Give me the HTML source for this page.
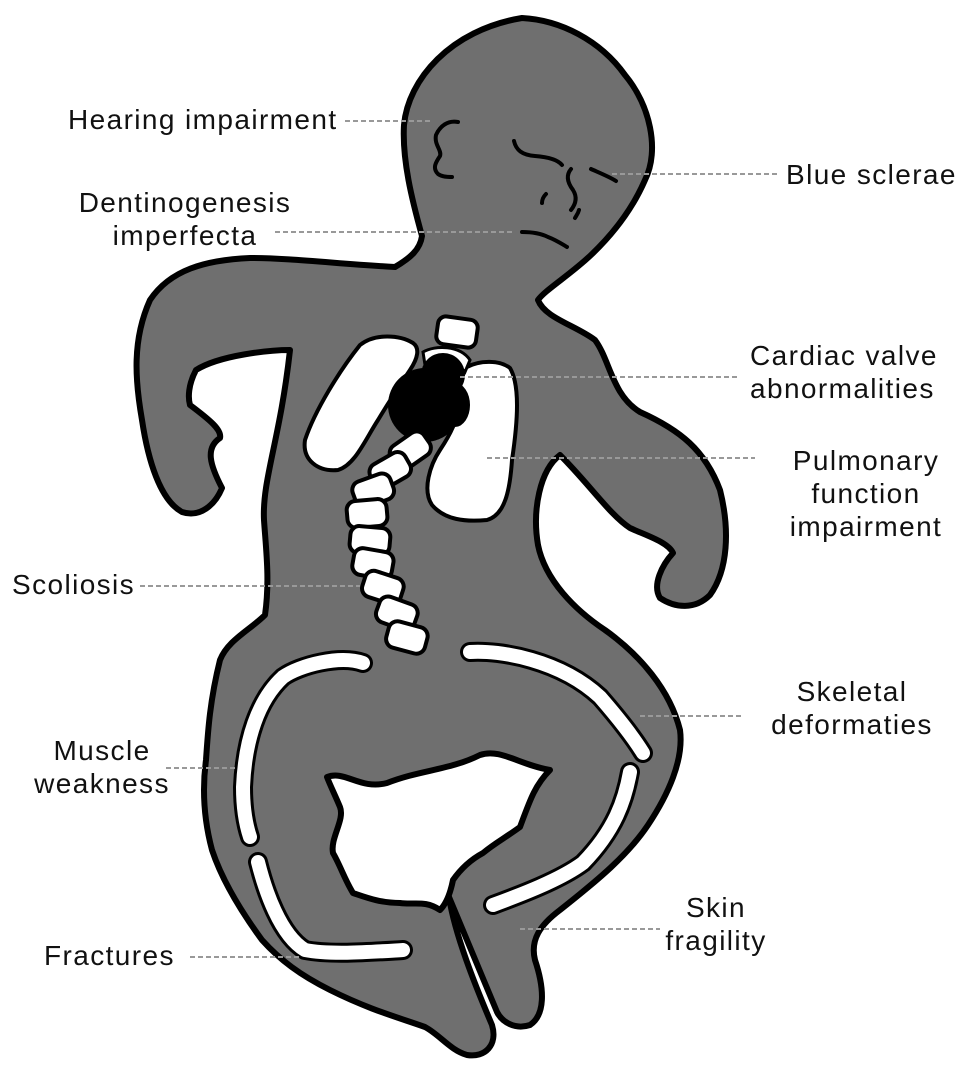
<!DOCTYPE html>
<html><head><meta charset="utf-8"><style>
html,body{margin:0;padding:0;background:#fff}
svg{display:block}
text{font-family:"Liberation Sans",Arial,sans-serif;font-size:28px;letter-spacing:1.4px;fill:#111}
.d{stroke:#999;stroke-width:2;stroke-dasharray:5 3;fill:none}
</style></head><body>
<svg width="969" height="1074" viewBox="0 0 969 1074">
<path fill="#6f6f6f" stroke="#000" stroke-width="6" stroke-linejoin="round" d="
M522,18 C560,20 600,40 625,75 C650,105 660,150 645,180 C632,210 612,235 591,255 C570,275 545,290 538,300 C545,318 575,325 595,340 C610,360 612,395 640,412 C680,430 705,450 720,490 C730,530 728,570 710,595 C695,610 675,608 660,598 C652,585 662,565 673,553 C668,542 645,535 630,528 C610,515 590,485 560,455 C540,470 532,510 538,545 C545,580 575,610 605,630 C640,655 670,690 680,730 C684,760 668,795 648,825 C628,855 598,880 560,910 C540,925 530,940 535,960 C545,990 545,1015 530,1025 C515,1030 502,1022 497,1012 L449,897 C455,935 475,985 492,1025 C498,1045 485,1058 467,1055 C450,1050 440,1035 425,1027 C400,1018 370,1010 330,990 C300,975 280,960 262,940 C240,910 222,880 212,850 C204,820 202,790 206,760 C208,730 210,700 220,660 C228,640 250,630 265,615 C270,580 266,550 264,520 C262,480 280,440 290,350 C270,350 220,355 196,370 C188,385 188,398 190,405 C210,420 222,430 220,438 C205,448 210,465 222,488 C215,505 200,518 182,512 C160,500 148,460 142,420 C135,380 132,340 150,300 C170,270 205,260 250,258 C290,258 340,264 395,267 C410,258 420,250 422,236 C412,200 402,160 404,125 C408,80 450,30 522,18 Z"/>
<path fill="#fff" stroke="#000" stroke-width="6" stroke-linejoin="round" d="M327,777 C345,770 360,790 387,783 C420,770 450,770 480,755 C500,748 520,765 550,770 C535,785 530,800 520,827 C505,838 495,843 483,853 C470,860 460,870 453,880 C450,895 445,905 440,910 C425,900 415,905 400,903 C380,903 365,897 353,893 C345,880 340,865 333,853 C330,838 345,820 340,807 C335,795 330,785 327,777 Z"/>
<g fill="none" stroke-linecap="round" stroke-linejoin="round">
<path stroke="#000" stroke-width="20" d="M363,663 C340,655 300,665 283,677 C258,700 245,740 243,787 C243,810 246,825 250,837"/>
<path stroke="#fff" stroke-width="14" d="M363,663 C340,655 300,665 283,677 C258,700 245,740 243,787 C243,810 246,825 250,837"/>
<path stroke="#000" stroke-width="20" d="M258,862 C265,890 280,935 305,950 C330,955 370,952 403,950"/>
<path stroke="#fff" stroke-width="14" d="M258,862 C265,890 280,935 305,950 C330,955 370,952 403,950"/>
<path stroke="#000" stroke-width="20" d="M470,652 C500,650 560,660 600,697 C620,720 635,740 643,753"/>
<path stroke="#fff" stroke-width="14" d="M470,652 C500,650 560,660 600,697 C620,720 635,740 643,753"/>
<path stroke="#000" stroke-width="20" d="M630,772 C625,800 615,830 583,863 C560,880 520,895 493,905"/>
<path stroke="#fff" stroke-width="14" d="M630,772 C625,800 615,830 583,863 C560,880 520,895 493,905"/>
</g>
<g fill="#fff" stroke="#000" stroke-width="4" stroke-linejoin="round">
<path d="M413,343 C400,335 375,333 360,345 C340,370 315,410 305,440 C302,460 318,472 338,470 C355,465 365,440 378,420 C390,400 400,385 410,370 C418,358 420,348 413,343 Z"/>
<path d="M467,367 C480,360 500,360 510,368 C520,385 518,420 512,460 C510,490 505,515 487,520 C465,522 445,520 432,505 C422,490 430,465 440,450 C450,435 458,420 460,400 C460,385 460,372 467,367 Z"/>
<rect x="437" y="318" width="40" height="28" rx="8" transform="rotate(8 457 332)"/>
</g>
<path d="M423,352 C435,345 460,345 470,360 L465,372 C455,360 435,360 425,365 Z" fill="#fff" stroke="#000" stroke-width="3"/>
<circle cx="443" cy="375" r="22" fill="#000"/>
<circle cx="425" cy="405" r="37" fill="#000"/>
<ellipse cx="455" cy="405" rx="15" ry="22" fill="#000"/>
<g fill="#fff" stroke="#000" stroke-width="4">
<rect x="390" y="437" width="40" height="27" rx="9" transform="rotate(-35 410 450)"/>
<rect x="370" y="457" width="40" height="27" rx="9" transform="rotate(-30 390 470)"/>
<rect x="353" y="477" width="40" height="27" rx="9" transform="rotate(-20 373 490)"/>
<rect x="347" y="500" width="40" height="27" rx="9" transform="rotate(-5 367 513)"/>
<rect x="350" y="527" width="40" height="27" rx="9" transform="rotate(5 370 540)"/>
<rect x="353" y="550" width="40" height="27" rx="9" transform="rotate(10 373 563)"/>
<rect x="363" y="574" width="40" height="27" rx="9" transform="rotate(18 383 587)"/>
<rect x="377" y="600" width="40" height="27" rx="9" transform="rotate(20 397 613)"/>
<rect x="387" y="624" width="40" height="27" rx="9" transform="rotate(15 407 637)"/>
</g>
<g fill="none" stroke="#000" stroke-width="4" stroke-linecap="round">
<path d="M458,122 C448,120 440,126 436,135 C434,145 442,150 440,156 C436,162 432,168 438,174 C442,177 448,177 452,177"/>
<path d="M514,141 C516,150 522,155 535,156 C548,157 558,160 562,165"/>
<path d="M591,169 C600,173 610,177 616,181"/>
<path d="M571,169 C566,175 567,182 573,190 C578,198 575,205 571,210"/>
<path d="M546,194 C543,197 542,200 542,203"/>
<path d="M579,210 C578,214 576,216 575,218"/>
<path d="M522,232 C532,232 542,234 548,237 C556,240 562,244 567,247"/>
</g>
<g class="d">
<path d="M345,121H430"/><path d="M612,174H778"/><path d="M275,232H513"/>
<path d="M460,377H740"/><path d="M487,458H755"/><path d="M140,586H360"/>
<path d="M640,716H742"/><path d="M166,768H235"/><path d="M520,929H660"/><path d="M190,957H300"/>
</g>
<text x="68" y="129">Hearing impairment</text>
<text x="786" y="184">Blue sclerae</text>
<text x="185" y="212" text-anchor="middle">Dentinogenesis</text>
<text x="185" y="245" text-anchor="middle">imperfecta</text>
<text x="750" y="365">Cardiac valve</text>
<text x="750" y="398">abnormalities</text>
<text x="866" y="470" text-anchor="middle">Pulmonary</text>
<text x="866" y="503" text-anchor="middle">function</text>
<text x="866" y="536" text-anchor="middle">impairment</text>
<text x="12" y="594">Scoliosis</text>
<text x="852" y="701" text-anchor="middle">Skeletal</text>
<text x="852" y="734" text-anchor="middle">deformaties</text>
<text x="102" y="760" text-anchor="middle">Muscle</text>
<text x="102" y="793" text-anchor="middle">weakness</text>
<text x="716" y="917" text-anchor="middle">Skin</text>
<text x="716" y="950" text-anchor="middle">fragility</text>
<text x="44" y="965">Fractures</text>
</svg>
</body></html>
